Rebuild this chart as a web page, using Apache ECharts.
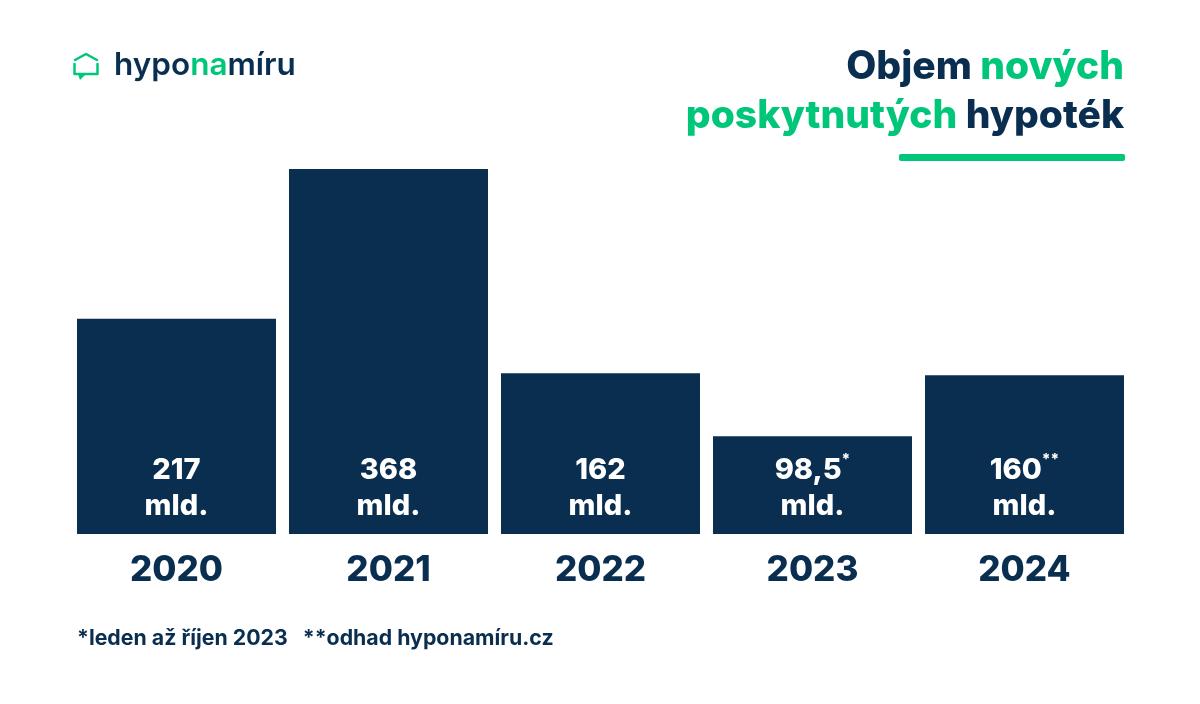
<!DOCTYPE html>
<html><head><meta charset="utf-8">
<style>html,body{margin:0;padding:0;background:#fff}#c{width:1200px;height:704px}</style>
<script src="https://cdn.jsdelivr.net/npm/echarts@6/dist/echarts.min.js"></script>
</head><body><div id="c"></div>
<script>
const years = ['2020','2021','2022','2023','2024'];
const values = [217,368,162,98.5,160];
const valueLabels = ['217','368','162','98,5','160'];
const marks = ['','','','*','**'];
const unit = 'mld.';
const footnote = '*leden až říjen 2023   **odhad hyponamíru.cz';
const navy = '#0a2e50', green = '#00c67a';
const font = 'Inter';

const chart = echarts.init(document.getElementById('c'), null, {renderer:'canvas'});
chart.setOption({
  animation:false,
  backgroundColor:'#fff',
  textStyle:{fontFamily:font},
  grid:{left:70.5,right:69.5,top:169,height:365,containLabel:false},
  xAxis:{
    type:'category',data:years,
    axisLine:{show:false},axisTick:{show:false},
    axisLabel:{color:navy,fontFamily:font,fontSize:35,fontWeight:800,margin:19}
  },
  yAxis:{type:'value',min:0,max:368,show:false,splitLine:{show:false}},
  series:[{
    type:'bar',data:values,barCategoryGap:'6.13%',
    itemStyle:{color:navy},
    label:{
      show:true,position:'insideBottom',distance:10,
      formatter:p=>`{v|${valueLabels[p.dataIndex]}}${marks[p.dataIndex]?`{s|${marks[p.dataIndex]}}`:''}\n{v|${unit}}`,
      rich:{
        v:{fontFamily:font,fontSize:29,fontWeight:800,color:'#fff',lineHeight:36},
        s:{fontFamily:font,fontSize:15,fontWeight:800,color:'#fff',lineHeight:36,verticalAlign:'top'}
      }
    }
  }],
  graphic:[
    {type:'text',x:1124,y:43,style:{
      text:'{n|Objem }{g|nových}\n{g|poskytnutých }{n|hypoték}',
      align:'right',verticalAlign:'top',fontFamily:font,
      rich:{
        n:{fontFamily:font,fontSize:39,fontWeight:800,fill:navy,lineHeight:49},
        g:{fontFamily:font,fontSize:39,fontWeight:800,fill:green,lineHeight:49}
      }}},
    {type:'rect',shape:{x:899,y:154,width:226,height:7,r:2},style:{fill:green}},
    {type:'text',left:77,top:628,style:{text:footnote,fontFamily:font,fontSize:21.3,fontWeight:700,fill:navy}},
    {type:'text',left:114,top:50,style:{
      text:'{a|hypo}{b|na}{a|míru}',fontFamily:font,
      rich:{a:{fontFamily:font,fontSize:31.5,fontWeight:600,fill:navy},
            b:{fontFamily:font,fontSize:31.5,fontWeight:600,fill:green}}}},
    {type:'polyline',shape:{points:[[75,60],[86,54],[97,60]]},style:{stroke:green,fill:'none',lineWidth:2.5,lineJoin:'round',lineCap:'round'}},
    {type:'polyline',shape:{points:[[74.5,64],[74.5,74],[97.5,74],[97.5,64]]},style:{stroke:green,fill:'none',lineWidth:2.5,lineJoin:'round',lineCap:'round'}},
    {type:'polygon',shape:{points:[[78,74],[85,75],[80,80]]},style:{fill:green}}
  ]
});
</script></body></html>
